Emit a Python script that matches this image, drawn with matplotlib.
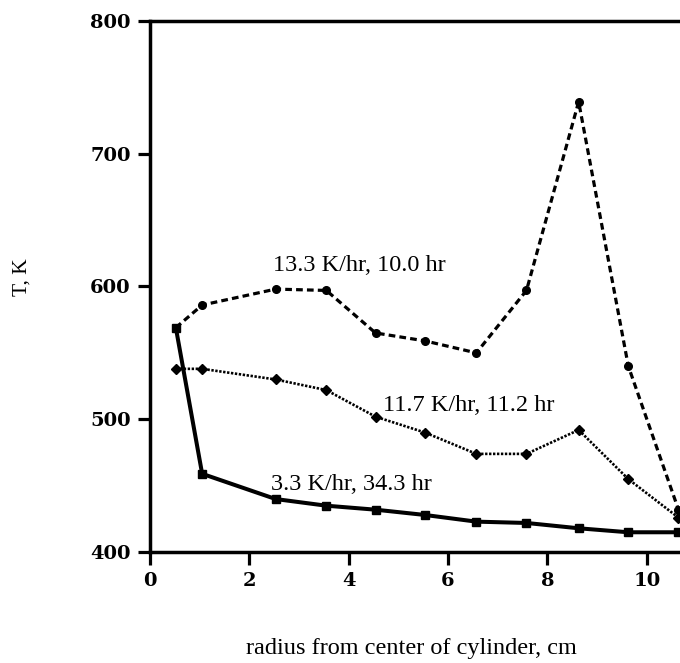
import matplotlib
matplotlib.use("Agg")
import matplotlib.pyplot as plt

# radial positions (cm)
radius = [0.52, 1.05, 2.53, 3.55, 4.54, 5.54, 6.57, 7.58, 8.63, 9.63, 10.64]

# temperatures (K) for the three heating schedules
t_fast = [569, 586, 598, 597, 565, 559, 550, 597, 739, 540, 432]
t_mid = [538, 538, 530, 522, 502, 490, 474, 474, 492, 455, 426]
t_slow = [569, 459, 440, 435, 432, 428, 423, 422, 418, 415, 415]

labels = ["13.3 K/hr, 10.0 hr", "11.7 K/hr, 11.2 hr", "3.3 K/hr, 34.3 hr"]
label_pos = [(2.48, 611.5), (4.70, 506.5), (2.44, 446.5)]

xticks = [0, 2, 4, 6, 8, 10]
yticks = [400, 500, 600, 700, 800]

plt.rcParams["font.family"] = ["Liberation Serif", "DejaVu Serif"]

W, H = 680, 663
X0, Y0, YTOP, PX_PER_CM = 150, 552.2, 20.7, 49.67
fig = plt.figure(figsize=(W / 100, H / 100), dpi=100)
ax = fig.add_axes([X0 / W, 1 - Y0 / H, 12 * PX_PER_CM / W, (Y0 - YTOP) / H])

ax.plot(radius, t_fast, color="black", lw=2.3, ls=(0, (2.1, 1.3)),
        marker="o", ms=5.5, mfc="black", mec="black")
ax.plot(radius, t_mid, color="black", lw=1.9, ls=(0, (0.9, 0.6)),
        marker="D", ms=5, mfc="black", mec="black")
ax.plot(radius, t_slow, color="black", lw=2.9, ls="-",
        marker="s", ms=5.5, mfc="black", mec="black")

for txt, (x, y) in zip(labels, label_pos):
    ax.text(x, y, txt, fontsize=17.5, ha="left", va="baseline")

ax.set_xlim(0, 12)
ax.set_ylim(400, 800)
ax.set_xticks(xticks)
ax.set_yticks(yticks)
ax.tick_params(direction="out", length=9, width=2.3, pad=5)
for lab in ax.get_xticklabels() + ax.get_yticklabels():
    lab.set_fontfamily("DejaVu Serif")
    lab.set_fontweight("bold")
    lab.set_fontsize(14)
for s in ax.spines.values():
    s.set_linewidth(2.5)

fig.text(411 / W, 1 - 654 / H, "radius from center of cylinder, cm",
         fontsize=17.5, ha="center", va="baseline")
fig.text(22 / W, 1 - 277 / H, "T, K", rotation=90, fontsize=15.5,
         ha="center", va="center")

fig.savefig("out.png", dpi=100)
